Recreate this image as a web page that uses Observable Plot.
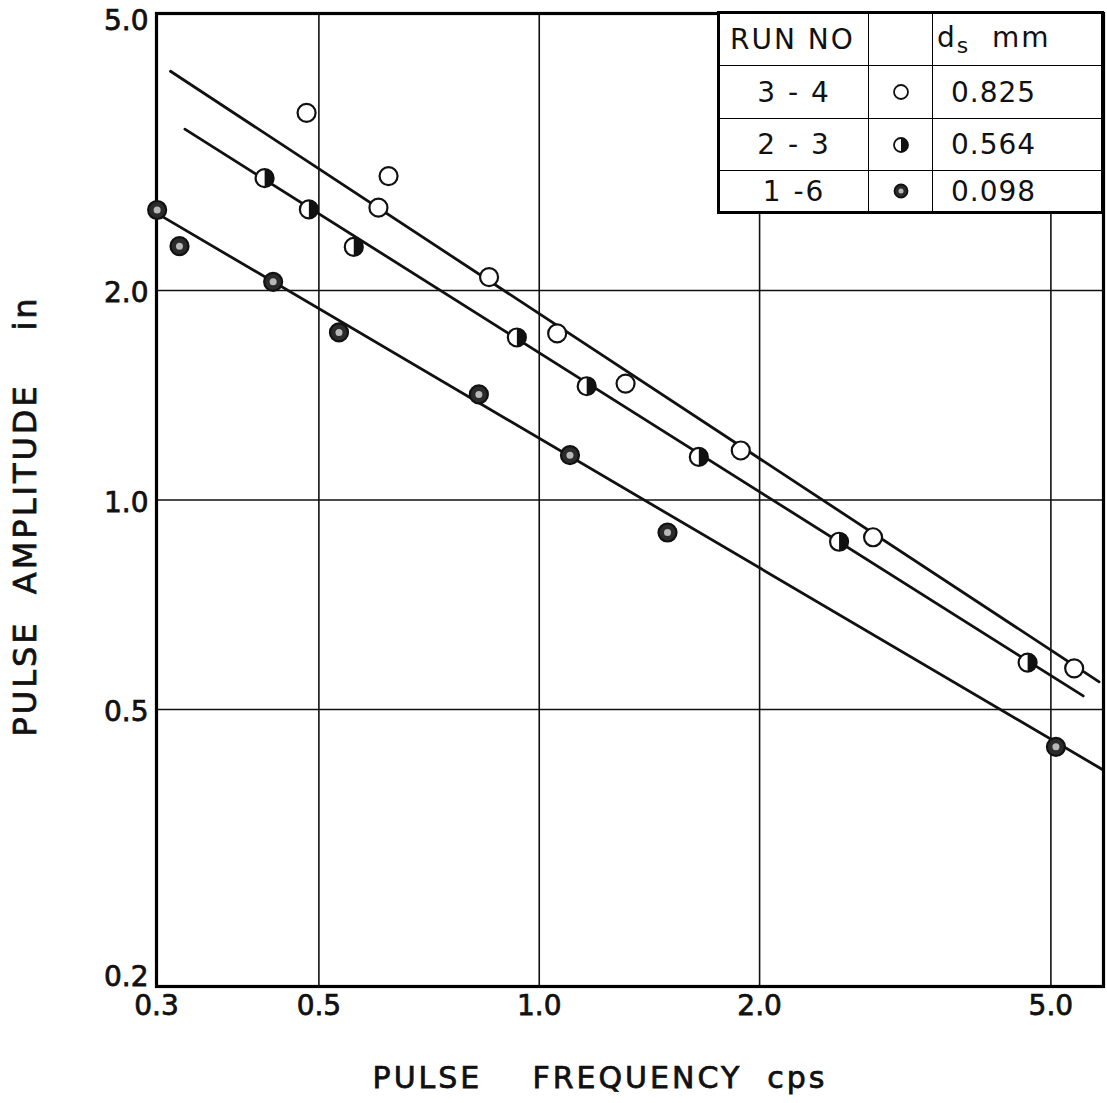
<!DOCTYPE html>
<html>
<head>
<meta charset="utf-8">
<script src="https://cdn.jsdelivr.net/npm/d3@7"></script>
<script src="https://cdn.jsdelivr.net/npm/@observablehq/plot@0.6"></script>
<style>
  html, body { margin: 0; padding: 0; background: #fff; }
  #wrap { position: relative; width: 1107px; height: 1103px; }
  #chart svg text { stroke: #111; stroke-width: 0.75px; }
  #legend {
    position: absolute; left: 717px; top: 11px; width: 387px; height: 202px;
    border-collapse: collapse; border: 3px solid #000; background: #fff;
    font-family: "DejaVu Sans", sans-serif; font-size: 28px; color: #111;
    table-layout: fixed;
  }
  #legend td { border: 1.6px solid #000; padding: 0; white-space: nowrap; }
  #legend .run { text-align: center; letter-spacing: 2px; }
  #legend .sym { text-align: center; }
  #legend .ds { text-align: left; padding-left: 18px; letter-spacing: 1px; }
  #legend .hdr1 { text-align: left; padding-left: 10px; letter-spacing: 2px; }
  #legend .hdr3 { text-align: left; padding-left: 4px; letter-spacing: 2px; }
  #legend svg { display: block; margin: 0 auto; }
</style>
</head>
<body>
<div id="wrap">
  <div id="chart"></div>
  <table id="legend"></table>
</div>
<script>
// ---- Data ----
const xTicks = [0.3, 0.5, 1.0, 2.0, 5.0];
const yTicksMid = [0.5, 1.0, 2.0];
const yTickTop = [5.0];
const yTickBottom = [0.2];
const xGrid = [0.5, 1, 2, 5];
const yGrid = [0.5, 1, 2];

// Run 3-4, ds 0.825 mm (open circles)
const openX = [0.481, 0.6225, 0.603, 0.854, 1.058, 1.312, 1.885, 2.858, 5.38];
const openY = [3.60, 2.92, 2.63, 2.09, 1.735, 1.47, 1.178, 0.884, 0.573];
// Run 2-3, ds 0.564 mm (half-filled circles)
const halfX = [0.4215, 0.4845, 0.558, 0.932, 1.161, 1.652, 2.568, 4.647];
const halfY = [2.90, 2.615, 2.31, 1.712, 1.457, 1.153, 0.871, 0.584];
// Run 1-6, ds 0.098 mm (solid circles)
const solidX = [0.3006, 0.3225, 0.433, 0.5326, 0.827, 1.1015, 1.497, 5.08];
const solidY = [2.61, 2.316, 2.058, 1.741, 1.418, 1.160, 0.898, 0.442];

// Fitted lines (end points)
const openLineX = [0.3135, 5.82], openLineY = [4.13, 0.548];
const halfLineX = [0.328, 5.535], halfLineY = [3.41, 0.523];
const solidLineX = [0.3, 5.88], solidLineY = [2.583, 0.410];

// Legend table
const legendRun = ["3 - 4", "2 - 3", "1 -6"];
const legendKind = ["open", "half", "solid"];
const legendDs = ["0.825", "0.564", "0.098"];

const xLabel = "PULSE\u00a0\u00a0\u00a0\u00a0FREQUENCY\u00a0\u00a0cps";
const yLabel = "PULSE\u00a0\u00a0AMPLITUDE\u00a0\u00a0\u00a0\u00a0in";

// ---- build tables ----
const zip = (xs, ys) => xs.map((x, i) => ({x, y: ys[i]}));
const openPts = zip(openX, openY);
const halfPts = zip(halfX, halfY);
const solidPts = zip(solidX, solidY);

// right-half disc symbol
const rightHalf = {
  draw(context, size) {
    const r = Math.sqrt(size / Math.PI);
    context.moveTo(0, -r);
    context.arc(0, 0, r, -Math.PI / 2, Math.PI / 2);
    context.closePath();
  }
};

const fmt = d => d.toFixed(1);
const R = 9;
const tickStyle = { tickSize: 0, tickFormat: fmt, fontSize: 28, fill: "#111", label: null };

const chart = Plot.plot({
  width: 1107,
  height: 1103,
  marginLeft: 156,
  marginRight: 4,
  marginTop: 13,
  marginBottom: 117,
  style: { fontFamily: "DejaVu Sans, sans-serif", fontSize: "28px", background: "#fff", color: "#111" },
  x: { type: "log", domain: [0.3, 5.9], axis: null },
  y: { type: "log", domain: [0.2, 5.0], axis: null },
  marks: [
    Plot.ruleX(xGrid, { stroke: "#111", strokeWidth: 1.6 }),
    Plot.ruleY(yGrid, { stroke: "#111", strokeWidth: 1.6 }),
    Plot.line(zip(openLineX, openLineY), { x: "x", y: "y", stroke: "#111", strokeWidth: 2.8 }),
    Plot.line(zip(halfLineX, halfLineY), { x: "x", y: "y", stroke: "#111", strokeWidth: 2.8 }),
    Plot.line(zip(solidLineX, solidLineY), { x: "x", y: "y", stroke: "#111", strokeWidth: 2.8 }),
    Plot.frame({ stroke: "#000", strokeWidth: 3.2 }),
    Plot.axisX(xTicks, { ...tickStyle, tickPadding: 9 }),
    Plot.axisY(yTicksMid, { ...tickStyle, tickPadding: 8, dy: 3 }),
    Plot.axisY(yTickTop, { ...tickStyle, tickPadding: 8, dy: 8 }),
    Plot.axisY(yTickBottom, { ...tickStyle, tickPadding: 8, dy: -9 }),
    // open circles
    Plot.dot(openPts, { x: "x", y: "y", r: R, fill: "#fff", stroke: "#111", strokeWidth: 2.2 }),
    // half-filled circles
    Plot.dot(halfPts, { x: "x", y: "y", r: R, fill: "#fff", stroke: "#111", strokeWidth: 2.2 }),
    Plot.dot(halfPts, { x: "x", y: "y", r: R, symbol: rightHalf, fill: "#111" }),
    // solid circles
    Plot.dot(solidPts, { x: "x", y: "y", r: R, fill: "#2b2b2b", stroke: "#111", strokeWidth: 2.2 }),
    Plot.dot(solidPts, { x: "x", y: "y", r: 3.5, fill: "#b8b8b8" }),
    // axis titles
    Plot.text([xLabel], { frameAnchor: "bottom", dx: -30, dy: 92, lineAnchor: "middle", fontSize: 30, fill: "#111" }),
    Plot.text([yLabel], { frameAnchor: "left", dx: -131, dy: 16, rotate: -90, lineAnchor: "middle", textAnchor: "middle", fontSize: 32, fill: "#111" })
  ]
});
document.getElementById("chart").appendChild(chart);

// letter spacing for titles (Plot has no option for it)
d3.select(chart).selectAll("text")
  .filter(function () { return this.textContent === xLabel; })
  .style("letter-spacing", "3px");
d3.select(chart).selectAll("text")
  .filter(function () { return this.textContent === yLabel; })
  .style("letter-spacing", "3px");

// ---- legend table ----
function symSvg(kind) {
  const r = 7;
  let inner = "";
  if (kind === "open") {
    inner = `<circle cx="10" cy="10" r="${r}" fill="#fff" stroke="#111" stroke-width="1.8"/>`;
  } else if (kind === "half") {
    inner = `<circle cx="10" cy="10" r="${r}" fill="#fff" stroke="#111" stroke-width="1.8"/>` +
            `<path d="M10,${10 - r} A${r},${r} 0 0 1 10,${10 + r} Z" fill="#111"/>`;
  } else {
    inner = `<circle cx="10" cy="10" r="${r - 0.5}" fill="#2b2b2b" stroke="#111" stroke-width="1.8"/>` +
            `<circle cx="10" cy="10" r="2.5" fill="#b8b8b8"/>`;
  }
  return `<svg width="20" height="20" viewBox="0 0 20 20">${inner}</svg>`;
}
const tbl = document.getElementById("legend");
let html = `<colgroup><col style="width:150px"><col style="width:64px"><col style="width:170px"></colgroup>`;
html += `<tr style="height:53px"><td class="hdr1">RUN NO</td><td></td><td class="hdr3">d<sub style="font-size:22px;vertical-align:-6px">s</sub>&nbsp;&nbsp;mm</td></tr>`;
const rowH = [53, 52, 42];
legendRun.forEach((run, i) => {
  html += `<tr style="height:${rowH[i]}px"><td class="run">${run}</td><td class="sym">${symSvg(legendKind[i])}</td><td class="ds">${legendDs[i]}</td></tr>`;
});
tbl.innerHTML = html;
</script>
</body>
</html>
